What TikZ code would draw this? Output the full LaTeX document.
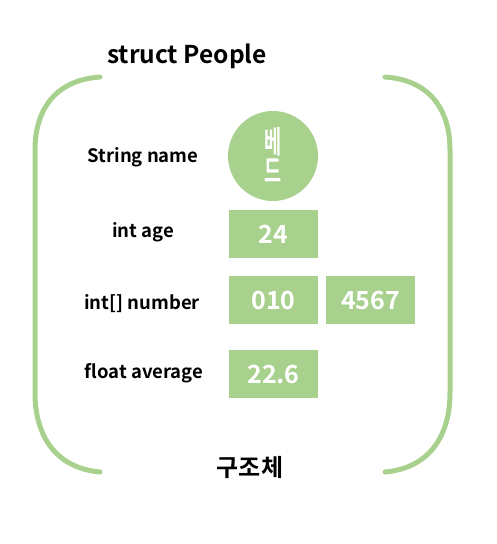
\documentclass[tikz,border=0pt]{standalone}
\usepackage{fontspec}
\setmainfont{Noto Sans CJK KR}[BoldFont={Noto Sans CJK KR Bold}]
\definecolor{lg}{HTML}{A9D18E}
\begin{document}
\begin{tikzpicture}[x=1pt,y=-1pt,
  lbl/.style={font=\fontsize{18.5}{20}\selectfont\bfseries, text=black},
  val/.style={fill=lg, minimum width=89pt, minimum height=48pt, inner sep=0pt,
    text=white, font=\fontsize{25}{26}\selectfont\bfseries},
  ch/.style={inner sep=0pt, text=white, font=\fontsize{31}{31}\selectfont\bfseries},
  brk/.style={draw=lg, line width=5pt, line cap=round}]
\useasboundingbox (0,0) rectangle (496,544);
\node[font=\fontsize{24.5}{26}\selectfont\bfseries] (title) at (187,56) {struct People};
\node[font=\fontsize{24}{24}\selectfont\bfseries] (kor) at (250,468) {구조체};
% brackets
\draw[brk] (100,77) .. controls (55,80) and (35,110) .. (35,150) -- (35,393)
  .. controls (35,435) and (55,468) .. (100,472);
\draw[brk] (385,77) .. controls (430,80) and (450,110) .. (450,150) -- (450,393)
  .. controls (450,435) and (430,468) .. (385,472);
% labels
\node[lbl] (l1) at (143,157) {String name};
\node[lbl] (l2) at (143,232) {int age};
\node[lbl] (l3) at (142,304) {int[] number};
\node[lbl] (l4) at (144,373) {float average};
% values
\node[circle, fill=lg, minimum size=90pt, inner sep=0pt] (name) at (273,156) {};
\node[ch] (c1) at (273,142) {\scalebox{0.6}[1]{베}};
\node[ch] (c2) at (273,171) {\scalebox{0.6}[1]{드}};
\node[val] (age) at (273.5,234) {24};
\node[val] (n1) at (273.5,300) {010};
\node[val] (n2) at (370.5,300) {4567};
\node[val] (avg) at (273.5,374) {22.6};
\end{tikzpicture}
\end{document}
